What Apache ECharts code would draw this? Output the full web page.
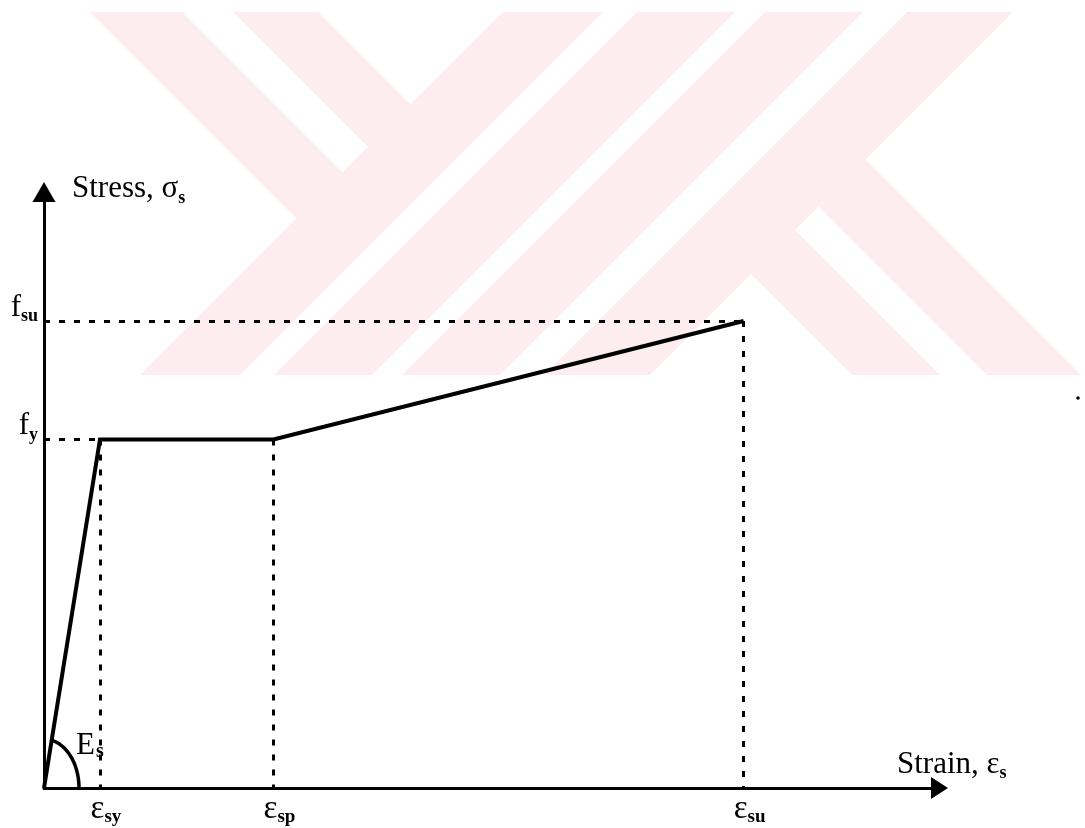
<!DOCTYPE html>
<html>
<head>
<meta charset="utf-8">
<title>Stress - strain</title>
<script src="https://cdn.jsdelivr.net/npm/echarts@6.0.0/dist/echarts.min.js"></script>
<style>
html, body { margin: 0; padding: 0; background: #fff; }
#chart { width: 1085px; height: 828px; }
</style>
</head>
<body>
<div id="chart"></div>
<script>
// schematic bilinear model, arbitrary units (yield strain = 1, yield stress = 1)
var strainPts = [0, 1.0, 4.1, 12.5];
var stressPts = [0, 1.0, 1.0, 1.34];
var strainTicks = [1.0, 4.1, 12.5];
var strainTickSubs = ['sy', 'sp', 'su'];
var stressTicks = [1.0, 1.34];
var stressTickSubs = ['y', 'su'];
var strainMax = 16;
var stressMax = 1.71;

var serif = '"Liberation Serif", "Times New Roman", serif';

// background watermark (pixel polygons, decoration only)
var watermark = [
    [[90, 12], [182, 12], [342.5, 172.5], [296.5, 218.5]],
    [[233, 12], [318, 12], [410.5, 104.5], [368, 147]],
    [[503, 12], [603, 12], [240, 375], [140, 375]],
    [[637, 12], [735, 12], [372, 375], [274, 375]],
    [[765, 12], [863, 12], [500, 375], [402, 375]],
    [[907, 12], [1013, 12], [650, 375], [544, 375]],
    [[751, 274], [795, 230], [940, 375], [852, 375]],
    [[818.5, 206.5], [865.5, 159.5], [1081, 375], [987, 375]]
];

var rich = {
    m: { fontFamily: serif, fontSize: 31, color: '#000', lineHeight: 36 },
    b: { fontFamily: serif, fontSize: 18, fontWeight: 'bold', color: '#000', lineHeight: 18, verticalAlign: 'bottom' }
};
var richX = {
    m: { fontFamily: serif, fontSize: 33, color: '#000', lineHeight: 36 },
    b: { fontFamily: serif, fontSize: 19, fontWeight: 'bold', color: '#000', lineHeight: 16, verticalAlign: 'bottom' }
};

function nearest(arr, v) {
    var best = 0;
    for (var i = 1; i < arr.length; i++) {
        if (Math.abs(arr[i] - v) < Math.abs(arr[best] - v)) best = i;
    }
    return best;
}

// dashed guide lines from the break points to both axes
var guides = [];
for (var i = 1; i < strainPts.length; i++) {
    guides.push([{ coord: [strainPts[i], stressPts[i]] }, { coord: [strainPts[i], 0] }]);
    if (stressPts[i] !== stressPts[i - 1]) {
        guides.push([{ coord: [0, stressPts[i]] }, { coord: [strainPts[i], stressPts[i]] }]);
    }
}

// modulus arc + E_s label at the origin
function renderModulus(params, api) {
    var o = api.coord([strainPts[0], stressPts[0]]);
    var p = api.coord([strainPts[1], stressPts[1]]);
    var rx = 35, ry = 49;
    var t0 = Math.atan2(rx * (o[1] - p[1]), ry * (p[0] - o[0]));
    var pts = [];
    for (var k = 0; k <= 40; k++) {
        var t = t0 * (1 - k / 40);
        pts.push([o[0] + rx * Math.cos(t), o[1] - ry * Math.sin(t)]);
    }
    return {
        type: 'group',
        children: [{
            type: 'polyline',
            shape: { points: pts },
            style: { stroke: '#000', lineWidth: 3.5, fill: null }
        }, {
            type: 'text',
            x: o[0] + 32, y: o[1] - 42,
            style: { text: 'E', fill: '#000', font: '31px ' + serif, align: 'left', verticalAlign: 'middle', textAlign: 'left', textVerticalAlign: 'middle' }
        }, {
            type: 'text',
            x: o[0] + 52, y: o[1] - 36,
            style: { text: 's', fill: '#000', font: 'bold 20px ' + serif, align: 'left', verticalAlign: 'middle', textAlign: 'left', textVerticalAlign: 'middle' }
        }]
    };
}

var myChart = echarts.init(document.getElementById('chart'));

var graphics = watermark.map(function (pts) {
    return { type: 'polygon', z: -1, silent: true, shape: { points: pts }, style: { fill: '#fdecf0' } };
});
graphics.push({ type: 'circle', z: -1, silent: true, shape: { cx: 1078, cy: 398, r: 1.8 }, style: { fill: '#000' } });

var option = {
    backgroundColor: '#fff',
    animation: false,
    graphic: graphics,
    grid: {
        left: 44,
        right: 145.5,
        top: 192,
        bottom: 40,
        containLabel: false,
        outerBoundsMode: 'none'
    },
    xAxis: {
        type: 'value',
        min: 0,
        max: strainMax,
        name: '{m|Strain, ε}{b|s}',
        nameLocation: 'end',
        nameGap: -42.5,
        nameMoveOverlap: false,
        nameTextStyle: { align: 'left', verticalAlign: 'middle', padding: [0, 0, 47, 0], rich: rich },
        axisLine: {
            show: true,
            onZero: false,
            symbol: ['none', 'triangle'],
            symbolSize: [22, 17],
            lineStyle: { color: '#000', width: 3 }
        },
        axisTick: { show: false },
        splitLine: { show: false },
        axisLabel: {
            show: true,
            customValues: strainTicks,
            margin: 3,
            align: 'center',
            padding: [0, 0, 0, 12],
            formatter: function (v) {
                return '{m|ε}{b|' + strainTickSubs[nearest(strainTicks, v)] + '}';
            },
            rich: richX
        }
    },
    yAxis: {
        type: 'value',
        min: 0,
        max: stressMax,
        name: '{m|Stress, σ}{b|s}',
        nameLocation: 'end',
        nameGap: 3,
        nameMoveOverlap: false,
        nameTextStyle: { align: 'left', verticalAlign: 'middle', padding: [0, 0, 0, 28], rich: rich },
        axisLine: {
            show: true,
            onZero: false,
            symbol: ['none', 'triangle'],
            symbolSize: [23, 20],
            lineStyle: { color: '#000', width: 3 }
        },
        axisTick: { show: false },
        splitLine: { show: false },
        axisLabel: {
            show: true,
            customValues: stressTicks,
            margin: 6,
            align: 'right',
            verticalAlign: 'middle',
            padding: [0, 0, 27, 0],
            formatter: function (v) {
                return '{m|f}{b|' + stressTickSubs[nearest(stressTicks, v)] + '}';
            },
            rich: rich
        }
    },
    series: [{
        type: 'line',
        data: strainPts.map(function (x, i) { return [x, stressPts[i]]; }),
        symbol: 'none',
        z: 3,
        lineStyle: { color: '#000', width: 4, join: 'miter' },
        markLine: {
            silent: true,
            symbol: ['none', 'none'],
            label: { show: false },
            lineStyle: { color: '#000', width: 3, type: [6, 9] },
            data: guides
        }
    }, {
        type: 'custom',
        coordinateSystem: 'cartesian2d',
        clip: false,
        z: 4,
        data: [[0, 0]],
        renderItem: renderModulus
    }]
};

myChart.setOption(option);
window.addEventListener('resize', function () {
    myChart.resize();
});
</script>
</body>
</html>
